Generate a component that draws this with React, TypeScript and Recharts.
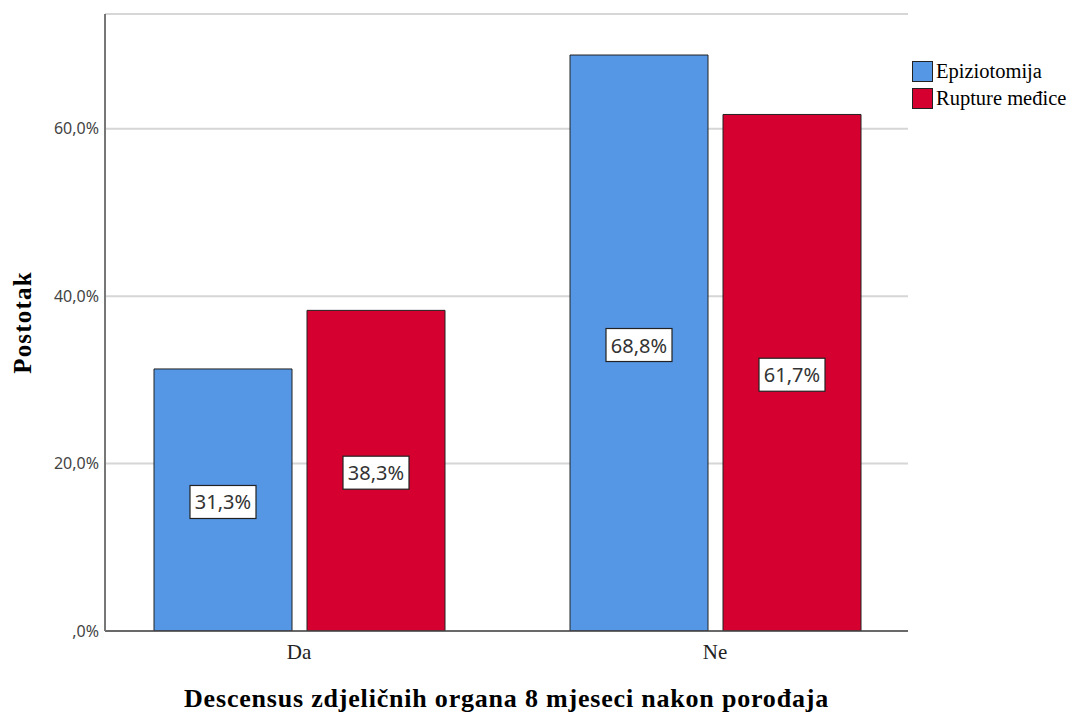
import React from 'react';
import { BarChart, Bar, XAxis, YAxis, CartesianGrid, Legend, LabelList } from 'recharts';

const categories = ['Da', 'Ne'];
const epiziotomija = [31.3, 68.8];
const rupture = [38.3, 61.7];
const yTicks = [0, 20, 40, 60];
const seriesNames = ['Epiziotomija', 'Rupture međice'];
const colors = ['#5596e5', '#d5002f'];

const data = categories.map((c, i) => ({ cat: c, a: epiziotomija[i], b: rupture[i] }));

const fmt = (v: number) => {
  const s = v.toFixed(1).replace('.', ',');
  return (s.startsWith('0,') ? s.slice(1) : s) + '%';
};

const BoxLabel = (props: any) => {
  const { x, y, width, height, value } = props;
  const cx = x + width / 2;
  const cy = y + height / 2 + 2;
  const w = 66;
  const h = 33;
  return (
    <g>
      <rect x={cx - w / 2} y={cy - h / 2} width={w} height={h} fill="#fff" stroke="#222" strokeWidth={1.2} />
      <text x={cx} y={cy} textAnchor="middle" dominantBaseline="central" fontFamily="'Noto Sans', sans-serif" fontSize={20} fill="#333">
        {fmt(value)}
      </text>
    </g>
  );
};

const YLabel = (props: any) => {
  const { viewBox } = props;
  const x = viewBox.x + 14;
  const y = viewBox.y + viewBox.height / 2;
  return (
    <text x={x} y={y} transform={`rotate(-90, ${x}, ${y})`} textAnchor="middle" dominantBaseline="central"
      fontFamily="'Liberation Serif', 'Times New Roman', serif" fontWeight="bold" fontSize={25} letterSpacing={1.2} fill="#000">
      Postotak
    </text>
  );
};

const XLabel = (props: any) => {
  const { viewBox } = props;
  const x = viewBox.x + viewBox.width / 2;
  const y = viewBox.y + viewBox.height - 8;
  return (
    <text x={x} y={y} textAnchor="middle"
      fontFamily="'Liberation Serif', 'Times New Roman', serif" fontWeight="bold" fontSize={26} letterSpacing={0.8} fill="#000">
      Descensus zdjeličnih organa 8 mjeseci nakon porođaja
    </text>
  );
};

const renderLegend = () => (
  <div>
    {seriesNames.map((n, i) => (
      <div key={n} style={{ display: 'flex', alignItems: 'center', height: 27 }}>
        <div style={{ width: 19, height: 19, background: colors[i], border: '1px solid #222', marginRight: 3 }} />
        <span style={{ fontFamily: "'Liberation Serif', 'Times New Roman', serif", fontSize: 20.5, color: '#000', whiteSpace: 'nowrap' }}>{n}</span>
      </div>
    ))}
  </div>
);

export default function App() {
  return (
    <BarChart
      width={1070}
      height={707}
      data={data}
      margin={{ top: 6, right: 170, bottom: 0, left: 0 }}
      barSize={138}
      barGap={15}
    >
      <CartesianGrid horizontal vertical={false} stroke="#d6d6d6" strokeWidth={2} />
      <XAxis
        dataKey="cat"
        height={84}
        padding={{ left: -14, right: -15 }}
        tickLine={false}
        tickSize={6}
        tickMargin={7}
        axisLine={{ stroke: '#444', strokeWidth: 1.5 }}
        tick={{ fontFamily: "'Liberation Serif', 'Times New Roman', serif", fontSize: 21, fill: '#222' }}
        label={<XLabel />}
      />
      <YAxis
        width={97}
        domain={[0, 73.7]}
        ticks={yTicks}
        tickFormatter={fmt}
        tickLine={false}
        tickSize={4}
        tickMargin={2}
        axisLine={{ stroke: '#777', strokeWidth: 2 }}
        tick={{ fontFamily: "'Noto Sans', sans-serif", fontSize: 16, fill: '#444' }}
        allowDataOverflow
        label={<YLabel />}
      />
      <Legend
        layout="vertical"
        align="center"
        verticalAlign="middle"
        wrapperStyle={{ left: 904, top: 50, width: 164 }}
        content={renderLegend}
      />
      <Bar dataKey="a" name={seriesNames[0]} fill={colors[0]} stroke="#222" strokeWidth={1} isAnimationActive={false}>
        <LabelList dataKey="a" content={<BoxLabel />} />
      </Bar>
      <Bar dataKey="b" name={seriesNames[1]} fill={colors[1]} stroke="#222" strokeWidth={1} isAnimationActive={false}>
        <LabelList dataKey="b" content={<BoxLabel />} />
      </Bar>
    </BarChart>
  );
}
